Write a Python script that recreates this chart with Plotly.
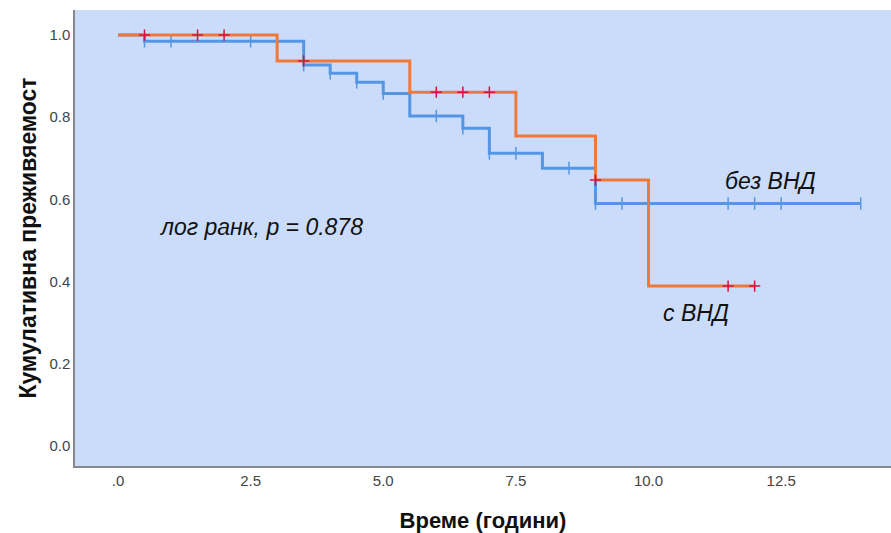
import plotly.graph_objects as go

# Kaplan-Meier step data (time, survival)
with_t = [0.0, 3.0, 5.5, 7.5, 9.0, 10.0, 12.0]
with_s = [1.0, 0.937, 0.861, 0.754, 0.647, 0.389, 0.389]
with_cens_t = [0.5, 1.5, 2.0, 3.5, 6.0, 6.5, 7.0, 9.0, 11.5, 12.0]
with_cens_s = [1.0, 1.0, 1.0, 0.937, 0.861, 0.861, 0.861, 0.647, 0.389, 0.389]

without_t = [0.0, 0.5, 3.5, 4.0, 4.5, 5.0, 5.5, 6.5, 7.0, 8.0, 9.0, 14.0]
without_s = [1.0, 0.985, 0.927, 0.907, 0.885, 0.858, 0.803, 0.773, 0.712, 0.676, 0.590, 0.590]
without_cens_t = [0.5, 1.0, 2.5, 3.5, 4.0, 4.5, 5.0, 6.0, 6.5, 7.0, 7.5, 8.5, 9.0, 9.5, 11.5, 12.0, 12.5, 14.0]
without_cens_s = [0.985, 0.985, 0.985, 0.927, 0.907, 0.885, 0.858, 0.803, 0.773, 0.712, 0.712, 0.676, 0.590, 0.590, 0.590, 0.590, 0.590, 0.590]

x_ticks = [0, 2.5, 5, 7.5, 10, 12.5]
x_tick_labels = [".0", "2.5", "5.0", "7.5", "10.0", "12.5"]
y_ticks = [0, 0.2, 0.4, 0.6, 0.8, 1.0]
y_tick_labels = ["0.0", "0.2", "0.4", "0.6", "0.8", "1.0"]

BLUE = "#5596E4"
ORANGE = "#F07838"
RED = "#D2143C"

fig = go.Figure()
fig.add_trace(go.Scatter(x=without_t, y=without_s, mode="lines", line_shape="hv",
                         line=dict(color=BLUE, width=3), hoverinfo="skip"))
fig.add_trace(go.Scatter(x=without_cens_t, y=without_cens_s, mode="markers",
                         marker=dict(symbol="line-ns", size=9, line=dict(color=BLUE, width=1.5)),
                         hoverinfo="skip"))
fig.add_trace(go.Scatter(x=with_t, y=with_s, mode="lines", line_shape="hv",
                         line=dict(color=ORANGE, width=3), hoverinfo="skip"))
fig.add_trace(go.Scatter(x=with_cens_t, y=with_cens_s, mode="markers",
                         marker=dict(symbol="cross-thin", size=8, line=dict(color=RED, width=1.5)),
                         hoverinfo="skip"))

ann_font = dict(family="Liberation Sans, Arial", size=23, color="#111111")
fig.add_annotation(x=2.7, y=0.533, text="<i>лог ранк, p = 0.878</i>", showarrow=False,
                   font=ann_font, xanchor="center", yanchor="middle")
fig.add_annotation(x=12.29, y=0.645, text="<i>без ВНД</i>", showarrow=False,
                   font=ann_font, xanchor="center", yanchor="middle")
fig.add_annotation(x=10.9, y=0.324, text="<i>с ВНД</i>", showarrow=False,
                   font=ann_font, xanchor="center", yanchor="middle")

fig.update_layout(
    width=891, height=533,
    margin=dict(l=75, r=0, t=10, b=67),
    paper_bgcolor="white", plot_bgcolor="#CADCFA",
    showlegend=False,
    font=dict(family="Liberation Sans, Arial", size=15, color="#333333"),
)
fig.update_xaxes(range=[-0.81, 14.57], tickvals=x_ticks, ticktext=x_tick_labels,
                 showgrid=False, zeroline=False, showline=True, linecolor="#888888", linewidth=1.5,
                 ticks="", tickfont=dict(size=15, color="#444444"),
                 title=dict(text="<b>Време (години)</b>", font=dict(size=22, color="#111111"), standoff=25))
fig.update_yaxes(range=[-0.049, 1.061], tickvals=y_ticks, ticktext=y_tick_labels,
                 showgrid=False, zeroline=False, showline=True, linecolor="#888888", linewidth=1.5,
                 ticks="", tickfont=dict(size=15, color="#444444"),
                 title=dict(text="<b>Кумулативна преживяемост</b>", font=dict(size=23, color="#111111"), standoff=6))

fig.write_html("out.html")
